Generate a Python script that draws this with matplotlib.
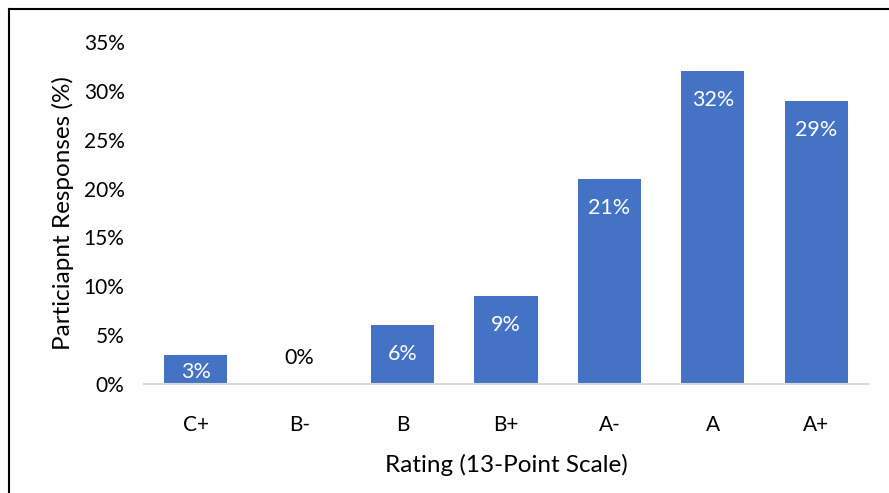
import matplotlib.pyplot as plt
from matplotlib.lines import Line2D

plt.rcParams['font.family'] = ['Lato', 'DejaVu Sans']

ratings = ['C+', 'B-', 'B', 'B+', 'A-', 'A', 'A+']
responses = [3, 0, 6, 9, 21, 32, 29]
yticks = [0, 5, 10, 15, 20, 25, 30, 35]

W, H = 889, 493
fig = plt.figure(figsize=(W / 100, H / 100), dpi=100)
ax = fig.add_axes([144 / W, 1 - 384 / H, (868 - 144) / W, (384 - 42) / H])

x = range(len(ratings))
bars = ax.bar(x, responses, width=0.61, color='#4472C4')

for xi, v in zip(x, responses):
    if v > 0:
        ax.text(xi, max(v - 2.97, 1.23), f'{v}%', ha='center', va='center',
                color='white', fontsize=15.5)
    else:
        ax.text(xi, v + 2.7, f'{v}%', ha='center', va='center', color='black', fontsize=15.5)

ax.set_xlim(-0.5, len(ratings) - 0.5)
ax.set_ylim(0, 35)
ax.set_yticks(yticks)
ax.set_yticklabels([f'{t}%' for t in yticks])
ax.set_xticks(list(x))
ax.set_xticklabels(ratings)
ax.tick_params(length=0, labelsize=15, pad=22)
ax.tick_params(axis='y', pad=14)

for s in ['top', 'right', 'left']:
    ax.spines[s].set_visible(False)
ax.spines['bottom'].set_color('#d9d9d9')
ax.spines['bottom'].set_linewidth(1.5)

ax.set_ylabel('Particiapnt Responses (%)', fontsize=17.5, labelpad=7)
ax.set_xlabel('Rating (13-Point Scale)', fontsize=17.5, labelpad=14)

# frame around the chart area (left and top visible)
fig.add_artist(Line2D([9 / W, 9 / W], [0, 1 - 9 / H], color='black', lw=1.5, transform=fig.transFigure))
fig.add_artist(Line2D([9 / W, 1], [1 - 9 / H, 1 - 9 / H], color='black', lw=1.5, transform=fig.transFigure))

fig.savefig('out.png', dpi=100)
